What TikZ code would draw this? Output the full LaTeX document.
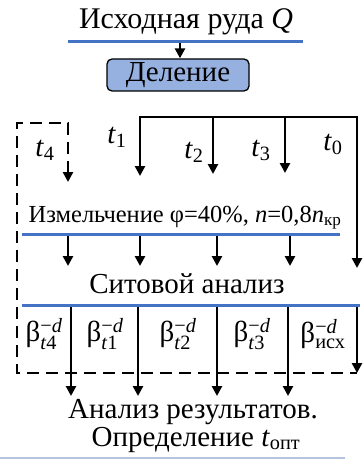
\documentclass[tikz,border=0pt]{standalone}
\usepackage{fontspec}
\setmainfont{Liberation Serif}
\usepackage{amsmath}
\usetikzlibrary{arrows.meta,positioning}
\definecolor{lineblue}{RGB}{68,114,196}
\definecolor{boxblue}{RGB}{150,176,224}
\definecolor{faintline}{RGB}{180,196,222}
\tikzset{
  txtlabel/.style={font=\fontsize{29}{31}\selectfont, inner sep=0pt, anchor=base},
  smalllabel/.style={font=\fontsize{24.5}{26}\selectfont, inner sep=0pt, anchor=base},
  betalabel/.style={font=\fontsize{29}{31}\selectfont, inner sep=0pt},
  procbox/.style={draw, rounded corners=5pt, line width=1.3pt, fill=boxblue, minimum width=142pt, minimum height=32pt, inner sep=0pt, font=\fontsize{29}{31}\selectfont},
  blueline/.style={lineblue, line width=3pt},
  arrow/.style={-{Triangle[width=10pt,length=10pt]}, line width=2.6pt},
  twoarrow/.style={{Triangle[width=10pt,length=10pt]}-{Triangle[width=10pt,length=10pt]}, line width=2.6pt, line join=miter},
  dashpath/.style={{Triangle[width=10pt,length=10pt]}-, line width=2.6pt, line join=miter, dash pattern=on 12pt off 7pt}
}
\newcommand{\betaidx}[1]{β$^{\text{−\textit{d}}}_{\text{#1}}$}

\begin{document}
\begin{tikzpicture}[x=1pt,y=-1pt]
  \useasboundingbox (0,0) rectangle (362,468);
  % source and splitting
  \node[txtlabel, font=\fontsize{30}{32}\selectfont] (ore) at (186,29) {Исходная руда \textit{Q}};
  \coordinate (oreL) at (68,42);
  \coordinate (oreR) at (303,42);
  \draw[blueline] (oreL) -- (oreR);
  \node[procbox] (split) at (178,75) {Деление};
  \coordinate (oreout) at (180,43);
  \draw[arrow] (oreout) -- (split.north -| oreout);
  % grinding times
  \coordinate (t1top) at (140,117);
  \coordinate (t1end) at (140,176);
  \coordinate (t2top) at (213,117);
  \coordinate (t2end) at (213,174);
  \coordinate (t3top) at (285,117);
  \coordinate (t3end) at (285,173);
  \coordinate (t0top) at (357,117);
  \coordinate (t0end) at (357,268);
  \draw[twoarrow] (t1end) -- (t1top) -- (t0top) -- (t0end);
  \draw[arrow] (t2top) -- (t2end);
  \draw[arrow] (t3top) -- (t3end);
  \node[txtlabel] (lt4) at (45,156) {\textit{t}\textsubscript{4}};
  \node[txtlabel] (lt1) at (117,143) {\textit{t}\textsubscript{1}};
  \node[txtlabel] (lt2) at (194,158) {\textit{t}\textsubscript{2}};
  \node[txtlabel] (lt3) at (261,156) {\textit{t}\textsubscript{3}};
  \node[txtlabel] (lt0) at (333,150) {\textit{t}\textsubscript{0}};
  % dashed loop for t4
  \coordinate (t4end) at (68,182);
  \coordinate (t4top) at (68,123);
  \coordinate (dashTL) at (17,123);
  \coordinate (dashBL) at (17,373);
  \coordinate (dashBR) at (357,373);
  \draw[dashpath] (t4end) -- (t4top) -- (dashTL) -- (dashBL) -- (dashBR);
  % grinding
  \node[smalllabel] (grind) at (185,222) {Измельчение φ=40\%, \textit{n}=0,8\textit{n}\textsubscript{кр}};
  \coordinate (grindL) at (22,234);
  \coordinate (grindR) at (340,234);
  \draw[blueline] (grindL) -- (grindR);
  \foreach \x [count=\i] in {68,140,217,290} {
    \coordinate (g\i top) at (\x,236);
    \coordinate (g\i end) at (\x,266);
    \draw[arrow] (g\i top) -- (g\i end);
  }
  % sieve analysis
  \node[txtlabel] (sieve) at (187,293) {Ситовой анализ};
  \coordinate (sieveL) at (22,305);
  \coordinate (sieveR) at (360,305);
  \draw[blueline] (sieveL) -- (sieveR);
  \foreach \x [count=\i] in {71,138,217,288} {
    \coordinate (s\i top) at (\x,307);
    \coordinate (s\i end) at (\x,396);
    \draw[arrow] (s\i top) -- (s\i end);
  }
  \coordinate (s0top) at (357,307);
  \draw[arrow] (s0top) -- (dashBR);
  \node[betalabel] (b4) at (44,334) {\betaidx{\textit{t}4}};
  \node[betalabel] (b1) at (105,334) {\betaidx{\textit{t}1}};
  \node[betalabel] (b2) at (178,334) {\betaidx{\textit{t}2}};
  \node[betalabel] (b3) at (252,334) {\betaidx{\textit{t}3}};
  \node[betalabel] (b0) at (323,334) {\betaidx{исх}};
  % results
  \node[txtlabel] (res) at (193,418) {Анализ результатов.};
  \node[txtlabel] (opt) at (196,446) {Определение \textit{t}\textsubscript{опт}};
  \coordinate (baseL) at (0,458);
  \coordinate (baseR) at (345,458);
  \draw[faintline, line width=1.5pt] (baseL) -- (baseR);
\end{tikzpicture}
\end{document}
